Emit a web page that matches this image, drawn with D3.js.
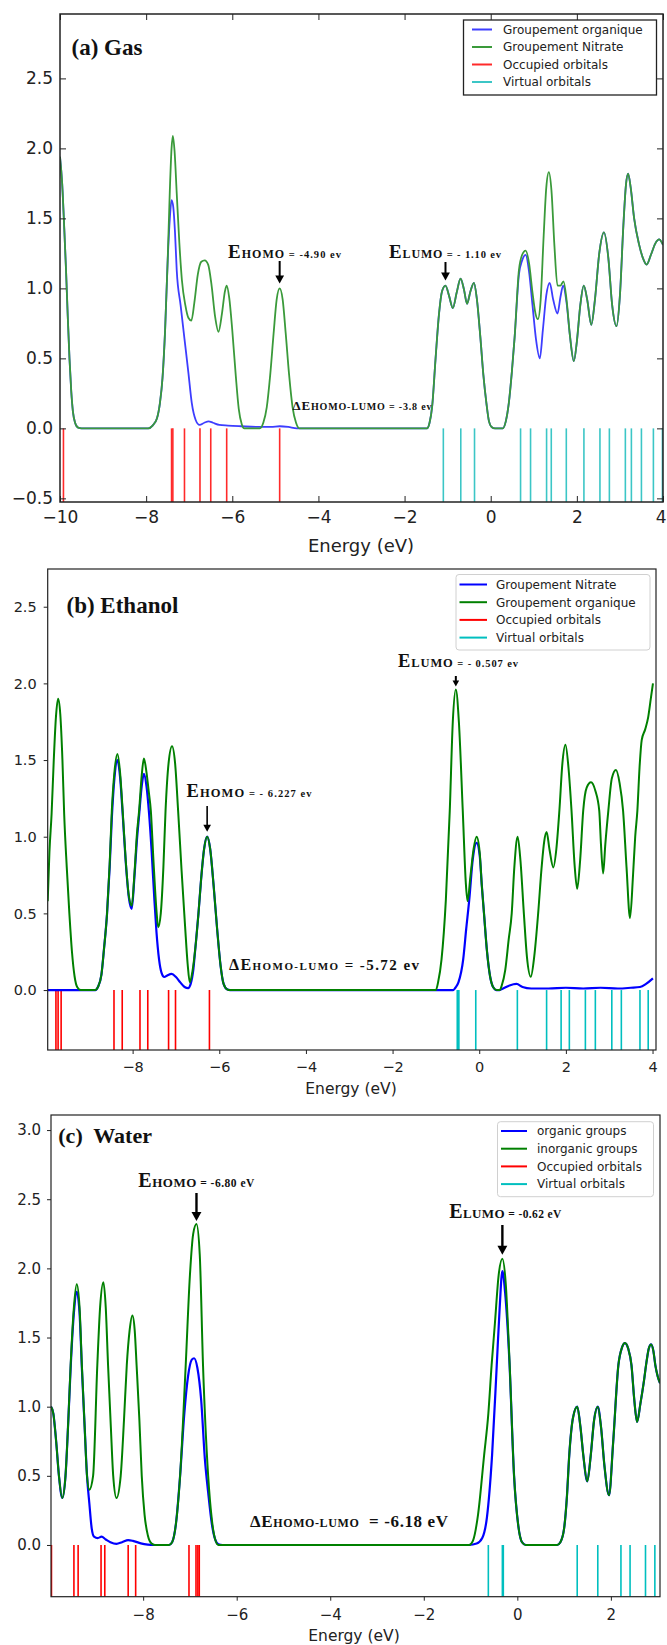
<!DOCTYPE html>
<html>
<head>
<meta charset="utf-8">
<script src="https://cdn.jsdelivr.net/npm/d3@7"></script>
<style>
  body { margin: 0; background: #fff; }
  svg { display: block; }
</style>
</head>
<body>
<svg id="chart" width="667" height="1645"></svg>
<script>
// ---------------- Panel (a): gas phase ----------------
const gasTicksX = [-10, -8, -6, -4, -2, 0, 2, 4];
const gasTicksY = [-0.5, 0, 0.5, 1, 1.5, 2, 2.5];
const gasSeriesNames = ["Groupement organique", "Groupement Nitrate", "Occupied orbitals", "Virtual orbitals"];

// [energy (eV), DOS]
const gasOrganique = [
  [-10.00,1.94],[-9.95,1.75],[-9.90,1.42],[-9.86,1.13],[-9.82,0.80],[-9.78,0.50],[-9.74,0.27],[-9.70,0.12],[-9.65,0.04],[-9.58,0.005],[-9.50,0],
  [-7.95,0],[-7.85,0.02],[-7.75,0.07],[-7.68,0.18],[-7.62,0.36],[-7.56,0.70],[-7.50,1.20],[-7.45,1.50],[-7.41,1.63],[-7.37,1.58],[-7.33,1.40],
  [-7.29,1.13],[-7.20,0.88],[-7.11,0.64],[-7.02,0.40],[-6.94,0.18],[-6.85,0.06],[-6.76,0.025],[-6.65,0.04],[-6.55,0.05],[-6.45,0.04],
  [-6.30,0.025],[-6.10,0.02],[-5.80,0.015],[-5.40,0.01],[-5.10,0.01],[-4.90,0.015],[-4.70,0.01],[-4.50,0],
  [-1.48,0],[-1.42,0.04],[-1.36,0.155],[-1.28,0.50],[-1.20,0.82],[-1.13,0.98],[-1.05,1.02],[-0.97,0.95],[-0.88,0.86],[-0.79,0.97],
  [-0.70,1.07],[-0.62,0.99],[-0.55,0.89],[-0.47,0.98],[-0.39,1.04],[-0.32,0.92],[-0.24,0.65],[-0.17,0.38],[-0.10,0.18],[-0.04,0.05],
  [0.02,0.01],[0.10,0],[0.28,0],[0.35,0.05],[0.42,0.18],[0.49,0.40],[0.555,0.65],[0.655,1.10],[0.73,1.20],[0.81,1.24],[0.89,1.12],
  [0.97,0.88],[1.05,0.64],[1.14,0.50],[1.21,0.70],[1.29,0.95],[1.37,1.04],[1.45,0.92],[1.55,0.82],[1.62,0.94],[1.68,1.02],[1.76,0.90],
  [1.84,0.66],[1.93,0.48],[2.00,0.62],[2.08,0.88],[2.16,1.02],[2.24,0.92],[2.335,0.74],[2.42,0.92],[2.52,1.25],[2.63,1.40],[2.73,1.22],
  [2.82,0.88],[2.92,0.73],[3.00,0.95],[3.08,1.45],[3.14,1.74],[3.19,1.82],[3.25,1.72],[3.33,1.50],[3.44,1.32],[3.53,1.22],[3.62,1.17],
  [3.72,1.24],[3.82,1.32],[3.91,1.35],[4.00,1.31]
];
const gasNitrate = [
  [-10.00,1.94],[-9.95,1.75],[-9.90,1.42],[-9.86,1.13],[-9.82,0.80],[-9.78,0.50],[-9.74,0.27],[-9.70,0.12],[-9.65,0.04],[-9.58,0.005],[-9.50,0],
  [-7.95,0],[-7.85,0.02],[-7.75,0.07],[-7.68,0.18],[-7.62,0.36],[-7.56,0.70],[-7.50,1.20],[-7.45,1.70],[-7.41,2.00],[-7.38,2.09],[-7.34,1.98],
  [-7.29,1.68],[-7.23,1.33],[-7.17,1.06],[-7.09,0.88],[-7.02,0.79],[-6.95,0.77],[-6.88,0.90],[-6.80,1.10],[-6.72,1.19],[-6.64,1.20],
  [-6.56,1.17],[-6.48,1.02],[-6.40,0.80],[-6.32,0.69],[-6.24,0.82],[-6.17,0.98],[-6.13,1.02],[-6.07,0.93],[-6.00,0.70],[-5.92,0.38],
  [-5.85,0.14],[-5.78,0.03],[-5.72,0],
  [-5.36,0],[-5.28,0.04],[-5.20,0.15],[-5.12,0.38],[-5.04,0.68],[-4.97,0.92],[-4.90,1.00],[-4.83,0.92],[-4.76,0.68],[-4.68,0.38],
  [-4.60,0.15],[-4.52,0.04],[-4.44,0],
  [-1.48,0],[-1.42,0.04],[-1.36,0.155],[-1.28,0.50],[-1.20,0.82],[-1.13,0.98],[-1.05,1.02],[-0.97,0.95],[-0.88,0.86],[-0.79,0.97],
  [-0.70,1.07],[-0.62,0.99],[-0.55,0.89],[-0.47,0.98],[-0.39,1.04],[-0.32,0.92],[-0.24,0.65],[-0.17,0.38],[-0.10,0.18],[-0.04,0.05],
  [0.02,0.01],[0.10,0],[0.28,0],[0.35,0.05],[0.42,0.18],[0.49,0.40],[0.555,0.65],[0.655,1.13],[0.73,1.24],[0.81,1.27],[0.89,1.18],
  [0.97,0.97],[1.04,0.82],[1.095,0.78],[1.16,0.92],[1.23,1.38],[1.29,1.72],[1.35,1.83],[1.41,1.70],[1.48,1.30],[1.55,1.02],[1.62,1.02],
  [1.69,1.05],[1.76,0.92],[1.84,0.66],[1.93,0.48],[2.00,0.62],[2.08,0.88],[2.16,1.02],[2.24,0.92],[2.335,0.74],[2.42,0.92],[2.52,1.25],
  [2.63,1.40],[2.73,1.22],[2.82,0.88],[2.92,0.73],[3.00,0.95],[3.08,1.45],[3.14,1.74],[3.19,1.82],[3.25,1.72],[3.33,1.50],[3.44,1.32],
  [3.53,1.22],[3.62,1.17],[3.72,1.24],[3.82,1.32],[3.91,1.35],[4.00,1.31]
];
const gasOccupied = [-9.92, -7.41, -7.38, -7.11, -6.75, -6.50, -6.13, -4.90];
const gasVirtual = [-1.10, -0.695, -0.376, 0.693, 0.925, 1.297, 1.406, 1.755, 2.164, 2.536, 2.755, 3.126, 3.266, 3.499, 3.777, 3.987];

// ---------------- Panel (b): ethanol ----------------
const ethTicksX = [-8, -6, -4, -2, 0, 2, 4];
const ethTicksY = [0, 0.5, 1, 1.5, 2, 2.5];
const ethSeriesNames = ["Groupement Nitrate", "Groupement organique", "Occupied orbitals", "Virtual orbitals"];

const ethNitrate = [
  [-9.96,0],[-8.86,0],[-8.80,0.02],[-8.72,0.10],[-8.66,0.27],[-8.59,0.50],[-8.53,0.80],[-8.48,1.12],[-8.42,1.38],[-8.35,1.50],
  [-8.29,1.39],[-8.23,1.15],[-8.16,0.84],[-8.09,0.61],[-8.02,0.53],[-7.96,0.73],[-7.90,0.98],[-7.85,1.14],[-7.79,1.33],[-7.74,1.41],
  [-7.68,1.33],[-7.62,1.15],[-7.56,0.90],[-7.50,0.60],[-7.45,0.38],[-7.39,0.20],[-7.33,0.11],[-7.27,0.085],[-7.20,0.095],[-7.10,0.105],
  [-7.00,0.085],[-6.90,0.05],[-6.80,0.02],[-6.72,0.012],[-6.66,0.04],[-6.60,0.13],[-6.55,0.28],[-6.48,0.50],[-6.42,0.72],[-6.35,0.92],
  [-6.28,1.00],[-6.21,0.92],[-6.13,0.68],[-6.05,0.40],[-5.97,0.16],[-5.90,0.04],[-5.82,0.005],[-5.75,0],
  [-0.60,0],[-0.55,0.015],[-0.48,0.05],[-0.37,0.20],[-0.30,0.40],[-0.23,0.59],[-0.15,0.85],[-0.06,0.96],[0.01,0.88],[0.06,0.68],
  [0.11,0.50],[0.18,0.25],[0.25,0.09],[0.32,0.02],[0.40,0],[0.47,0],[0.55,0.01],[0.70,0.03],[0.86,0.04],[1.00,0.02],[1.20,0.01],
  [1.60,0.01],[2.00,0.015],[2.40,0.01],[2.80,0.015],[3.20,0.01],[3.50,0.015],[3.71,0.02],[3.85,0.04],[4.01,0.076]
];
const ethOrganique = [
  [-9.96,0.58],[-9.92,0.90],[-9.87,1.15],[-9.82,1.50],[-9.77,1.78],[-9.72,1.90],[-9.67,1.80],[-9.62,1.50],[-9.58,1.15],[-9.52,0.80],
  [-9.46,0.50],[-9.40,0.25],[-9.34,0.09],[-9.28,0.02],[-9.20,0],
  [-8.86,0],[-8.80,0.02],[-8.72,0.10],[-8.66,0.27],[-8.59,0.50],[-8.53,0.82],[-8.48,1.17],[-8.42,1.42],[-8.35,1.54],[-8.29,1.42],
  [-8.23,1.17],[-8.16,0.85],[-8.09,0.62],[-8.02,0.55],[-7.96,0.75],[-7.90,1.02],[-7.85,1.17],[-7.79,1.40],[-7.74,1.51],[-7.68,1.42],
  [-7.63,1.30],[-7.58,1.17],[-7.52,0.85],[-7.45,0.52],[-7.41,0.41],[-7.35,0.50],[-7.29,0.80],[-7.24,1.17],[-7.17,1.48],[-7.09,1.59],
  [-7.02,1.48],[-6.95,1.17],[-6.87,0.78],[-6.79,0.42],[-6.73,0.17],[-6.68,0.05],[-6.62,0.12],[-6.55,0.28],[-6.48,0.50],[-6.42,0.72],
  [-6.35,0.92],[-6.28,1.00],[-6.21,0.92],[-6.13,0.68],[-6.05,0.40],[-5.97,0.16],[-5.90,0.04],[-5.82,0.005],[-5.75,0],
  [-1.00,0],[-0.95,0.05],[-0.87,0.20],[-0.77,0.59],[-0.68,1.17],[-0.61,1.75],[-0.54,1.96],[-0.47,1.75],[-0.38,1.17],[-0.31,0.70],
  [-0.27,0.58],[-0.20,0.75],[-0.13,0.92],[-0.06,1.00],[0.01,0.90],[0.06,0.68],[0.11,0.50],[0.18,0.25],[0.25,0.09],[0.32,0.02],
  [0.40,0],[0.47,0],[0.52,0.03],[0.60,0.13],[0.68,0.33],[0.75,0.50],[0.81,0.80],[0.886,1.00],[0.95,0.85],[1.03,0.50],[1.10,0.22],
  [1.19,0.087],[1.27,0.22],[1.36,0.50],[1.44,0.80],[1.50,0.97],[1.555,1.03],[1.62,0.92],[1.71,0.80],[1.78,0.92],[1.85,1.17],
  [1.92,1.48],[1.99,1.60],[2.06,1.45],[2.13,1.17],[2.20,0.82],[2.26,0.66],[2.33,0.85],[2.40,1.17],[2.48,1.32],[2.58,1.355],
  [2.68,1.30],[2.77,1.17],[2.81,0.95],[2.86,0.76],[2.91,0.95],[2.98,1.17],[3.06,1.38],[3.155,1.435],[3.24,1.35],[3.32,1.17],
  [3.40,0.80],[3.48,0.47],[3.55,0.75],[3.60,1.00],[3.65,1.17],[3.70,1.45],[3.75,1.63],[3.83,1.70],[3.90,1.78],[3.96,1.90],[4.01,2.00]
];
const ethOccupied = [-9.77, -9.72, -9.65, -8.43, -8.24, -7.83, -7.65, -7.17, -7.01, -6.227];
const ethVirtual = [-0.507, -0.49, -0.47, -0.08, 0.88, 1.555, 1.89, 2.08, 2.45, 2.68, 3.06, 3.28, 3.71, 3.90];

// ---------------- Panel (c): water ----------------
const watTicksX = [-8, -6, -4, -2, 0, 2];
const watTicksY = [0, 0.5, 1, 1.5, 2, 2.5, 3];
const watSeriesNames = ["organic groups", "inorganic groups", "Occupied orbitals", "Virtual orbitals"];

const watOrganic = [
  [-9.97,1.00],[-9.92,0.95],[-9.86,0.75],[-9.80,0.50],[-9.73,0.34],[-9.66,0.50],[-9.60,0.90],[-9.55,1.28],[-9.48,1.68],[-9.42,1.83],
  [-9.36,1.68],[-9.31,1.28],[-9.25,0.85],[-9.20,0.50],[-9.15,0.30],[-9.10,0.12],[-9.05,0.06],[-8.97,0.05],[-8.89,0.06],[-8.80,0.04],
  [-8.70,0.02],[-8.57,0.008],[-8.45,0.02],[-8.32,0.035],[-8.22,0.03],[-8.05,0.012],[-7.90,0.003],[-7.78,0],
  [-7.45,0],[-7.38,0.02],[-7.30,0.15],[-7.21,0.50],[-7.12,0.95],[-7.04,1.22],[-6.96,1.34],[-6.91,1.35],[-6.84,1.28],[-6.76,1.05],
  [-6.68,0.62],[-6.61,0.38],[-6.53,0.15],[-6.46,0.04],[-6.39,0.005],[-6.30,0],
  [-1.03,0],[-0.87,0.01],[-0.75,0.05],[-0.65,0.20],[-0.54,0.65],[-0.44,1.30],[-0.38,1.70],[-0.32,1.98],[-0.26,1.82],[-0.17,1.33],
  [-0.07,0.50],[0.02,0.14],[0.10,0.02],[0.18,0],
  [0.85,0],[0.92,0.02],[1.00,0.12],[1.06,0.35],[1.11,0.65],[1.19,0.92],[1.28,1.00],[1.35,0.85],[1.41,0.65],[1.495,0.46],[1.57,0.65],
  [1.64,0.90],[1.72,1.00],[1.79,0.85],[1.86,0.58],[1.96,0.36],[2.05,0.75],[2.16,1.30],[2.24,1.43],[2.30,1.46],[2.37,1.42],[2.44,1.30],
  [2.50,1.05],[2.56,0.89],[2.63,1.02],[2.70,1.17],[2.76,1.32],[2.81,1.42],[2.86,1.45],[2.91,1.40],[2.95,1.30],[3.00,1.22],[3.05,1.17]
];
const watInorganic = [
  [-9.97,1.00],[-9.92,0.95],[-9.86,0.75],[-9.80,0.50],[-9.73,0.34],[-9.66,0.50],[-9.60,0.90],[-9.55,1.30],[-9.48,1.72],[-9.42,1.885],
  [-9.36,1.72],[-9.31,1.30],[-9.25,0.85],[-9.20,0.50],[-9.15,0.40],[-9.07,0.50],[-8.98,1.30],[-8.92,1.72],[-8.85,1.90],[-8.80,1.72],
  [-8.75,1.30],[-8.69,0.85],[-8.64,0.50],[-8.57,0.34],[-8.48,0.50],[-8.41,0.90],[-8.35,1.30],[-8.29,1.55],[-8.23,1.66],[-8.18,1.55],
  [-8.14,1.30],[-8.08,0.90],[-8.03,0.50],[-7.97,0.22],[-7.90,0.07],[-7.82,0.01],[-7.75,0],
  [-7.45,0],[-7.38,0.02],[-7.30,0.15],[-7.21,0.50],[-7.09,1.30],[-7.00,1.95],[-6.93,2.25],[-6.86,2.32],[-6.79,2.10],[-6.72,1.30],
  [-6.61,0.50],[-6.53,0.18],[-6.46,0.04],[-6.39,0],
  [-1.03,0],[-0.95,0.03],[-0.84,0.22],[-0.71,0.65],[-0.62,0.95],[-0.55,1.30],[-0.48,1.60],[-0.40,1.95],[-0.32,2.07],[-0.25,1.90],
  [-0.17,1.35],[-0.07,0.50],[0.02,0.14],[0.10,0.02],[0.18,0],
  [0.85,0],[0.92,0.02],[1.00,0.12],[1.06,0.35],[1.11,0.65],[1.19,0.92],[1.28,1.00],[1.35,0.85],[1.41,0.65],[1.495,0.46],[1.57,0.65],
  [1.64,0.90],[1.72,1.00],[1.79,0.85],[1.86,0.58],[1.96,0.36],[2.05,0.75],[2.16,1.30],[2.24,1.43],[2.30,1.46],[2.37,1.42],[2.44,1.30],
  [2.50,1.05],[2.56,0.89],[2.63,1.02],[2.70,1.17],[2.76,1.32],[2.81,1.42],[2.86,1.45],[2.91,1.40],[2.95,1.30],[3.00,1.22],[3.05,1.17]
];
const watOccupied = [-9.96, -9.48, -9.39, -8.90, -8.82, -8.32, -8.16, -7.02, -6.87, -6.83, -6.80];
const watVirtual = [-0.62, -0.32, -0.30, 1.28, 1.72, 2.215, 2.41, 2.74, 2.94];

// ---------------- drawing ----------------
const svg = d3.select("#chart");
const SANS = "DejaVu Sans, sans-serif";
const SERIF = "Liberation Serif, Times New Roman, serif";

// nearest local maximum of a curve around an energy (used to aim the HOMO/LUMO arrows)
function peakNear(curve, e, win) {
  const pts = curve.filter(p => Math.abs(p[0] - e) <= win);
  return d3.greatest(pts, p => p[1]);
}

// label made of runs of different sizes: [text, font-size]; spread to a given width
function richText(g, x, y, parts, width) {
  const t = g.append("text").attr("x", x).attr("y", y)
    .attr("font-family", SERIF).attr("font-weight", "bold").attr("fill", "#111")
    .style("white-space", "pre");
  parts.forEach(p => t.append("tspan").attr("font-size", p[1]).text(p[0]));
  if (width) t.attr("textLength", width).attr("lengthAdjust", "spacing");
  return t;
}

function arrow(g, x, y1, y2, w, head) {
  g.append("line").attr("x1", x).attr("x2", x).attr("y1", y1).attr("y2", y2 - head + 1)
    .attr("stroke", "#000").attr("stroke-width", w);
  g.append("path")
    .attr("d", `M${x - head * 0.55},${y2 - head} L${x + head * 0.55},${y2 - head} L${x},${y2} Z`)
    .attr("fill", "#000");
}

function drawPanel(cfg, idx) {
  const f = cfg.frame;
  const x = d3.scaleLinear().domain(cfg.xDomain).range([f.l, f.r]);
  const y = d3.scaleLinear().domain(cfg.yDomain).range([f.b, f.t]);
  const g = svg.append("g");
  const clipId = "clip" + idx;
  g.append("clipPath").attr("id", clipId).append("rect")
    .attr("x", f.l).attr("y", f.t).attr("width", f.r - f.l).attr("height", f.b - f.t);

  const plot = g.append("g").attr("clip-path", `url(#${clipId})`);

  // orbital sticks, from zero down to the bottom of the axes
  const sticks = (arr, color) => plot.selectAll(null).data(arr).join("line")
    .attr("x1", d => x(d)).attr("x2", d => x(d))
    .attr("y1", y(0)).attr("y2", y(cfg.yDomain[0]))
    .attr("stroke", color).attr("stroke-width", cfg.stickWidth);
  sticks(cfg.occupied, cfg.colors[2]);
  sticks(cfg.virtual, cfg.colors[3]);

  const line = d3.line().x(d => x(d[0])).y(d => y(d[1])).curve(d3.curveMonotoneX);
  cfg.curves.forEach((c, i) => {
    plot.append("path").datum(c).attr("d", line)
      .attr("fill", "none").attr("stroke", cfg.colors[i])
      .attr("stroke-width", cfg.curveWidth[i]).attr("stroke-linejoin", "round");
  });

  // axes
  const inward = cfg.classic;
  const tl = inward ? -6 : 4;
  const ax = g.append("g").attr("transform", `translate(0,${f.b})`)
    .call(d3.axisBottom(x).tickValues(cfg.xTicks).tickFormat(d3.format("d"))
      .tickSizeInner(tl).tickSizeOuter(0).tickPadding(cfg.xPad));
  const ay = g.append("g").attr("transform", `translate(${f.l},0)`)
    .call(d3.axisLeft(y).tickValues(cfg.yTicks).tickFormat(d3.format(".1f"))
      .tickSizeInner(tl).tickSizeOuter(0).tickPadding(cfg.yPad));
  [ax, ay].forEach(a => {
    a.select(".domain").remove();
    a.selectAll("line").attr("stroke", "#222").attr("stroke-width", 1);
    a.selectAll("text").attr("font-family", SANS).attr("font-size", cfg.tickFont).attr("fill", "#222");
  });
  // keep a tick label that sits on the right frame inside the page
  ax.selectAll(".tick text").each(function (d) {
    const box = this.getBBox();
    const over = x(d) + box.width / 2 - 666;
    if (over > 0) d3.select(this).attr("dx", -over);
  });
  if (inward) {
    const at = g.append("g").attr("transform", `translate(0,${f.t})`)
      .call(d3.axisTop(x).tickValues(cfg.xTicks).tickFormat("").tickSizeInner(-6).tickSizeOuter(0));
    const ar = g.append("g").attr("transform", `translate(${f.r},0)`)
      .call(d3.axisRight(y).tickValues(cfg.yTicks).tickFormat("").tickSizeInner(-6).tickSizeOuter(0));
    [at, ar].forEach(a => {
      a.select(".domain").remove();
      a.selectAll("line").attr("stroke", "#222").attr("stroke-width", 1);
    });
  }
  g.append("rect").attr("x", f.l).attr("y", f.t).attr("width", f.r - f.l).attr("height", f.b - f.t)
    .attr("fill", "none").attr("stroke", "#222").attr("stroke-width", cfg.frameWidth);

  g.append("text").attr("x", cfg.xLabel[0]).attr("y", cfg.xLabel[1]).attr("text-anchor", "middle")
    .attr("font-family", SANS).attr("font-size", cfg.xLabel[2]).attr("fill", "#222").text("Energy (eV)");

  // title
  g.append("text").attr("x", cfg.title[1]).attr("y", cfg.title[2])
    .attr("font-family", SERIF).attr("font-weight", "bold").attr("font-size", cfg.title[3])
    .attr("fill", "#111").style("white-space", "pre").text(cfg.title[0]);

  // legend
  const L = cfg.legend;
  const lg = g.append("g");
  lg.append("rect").attr("x", L.x0).attr("y", L.y0).attr("width", L.x1 - L.x0).attr("height", L.y1 - L.y0)
    .attr("rx", L.rounded ? 3 : 0).attr("fill", "#fff")
    .attr("stroke", L.rounded ? "#d0d0d0" : "#222").attr("stroke-width", L.rounded ? 1 : 1.3);
  cfg.names.forEach((n, i) => {
    const ry = L.row0 + i * L.rowStep;
    lg.append("line").attr("x1", L.lx0).attr("x2", L.lx1).attr("y1", ry).attr("y2", ry)
      .attr("stroke", cfg.colors[i]).attr("stroke-width", 2);
    lg.append("text").attr("x", L.tx).attr("y", ry).attr("dy", "0.36em")
      .attr("font-family", SANS).attr("font-size", 12).attr("fill", "#222").text(n);
  });

  // HOMO / LUMO annotations
  const an = g.append("g");
  cfg.notes.forEach(n => {
    richText(an, n.x, n.y, n.parts, n.w);
    if (n.target != null) {
      const pk = peakNear(n.curve, n.target, 0.32);
      arrow(an, x(pk[0]), n.a0, y(pk[1]) - n.gap, n.aw, n.head);
    }
  });
}

drawPanel({
  frame: { l: 60, r: 663, t: 14, b: 502 },
  xDomain: [-10, 4], yDomain: [-0.526, 2.96],
  xTicks: gasTicksX, yTicks: gasTicksY, classic: true,
  xPad: 9, yPad: 7, tickFont: 17, frameWidth: 1.5,
  xLabel: [361, 552, 18],
  colors: ["#3d3dff", "#3a9a3a", "#ff2a2a", "#3cc6c6"],
  curveWidth: [1.8, 1.8], stickWidth: 1.6,
  curves: [gasOrganique, gasNitrate],
  occupied: gasOccupied, virtual: gasVirtual,
  names: gasSeriesNames,
  title: ["(a) Gas", 71.5, 55, 23],
  legend: { x0: 463.5, x1: 656.5, y0: 20, y1: 95, rounded: false, row0: 29.5, rowStep: 17.5, lx0: 472, lx1: 492, tx: 503 },
  notes: [
    { x: 228, y: 258, w: 113, parts: [["E", 19], ["HOMO", 12], [" = -4.90 ev", 10.5]], target: -4.90, curve: gasNitrate, a0: 261, gap: 5, aw: 2, head: 8 },
    { x: 389, y: 258, w: 112, parts: [["E", 19], ["LUMO", 12], [" = - 1.10 ev", 10.5]], target: -1.10, curve: gasNitrate, a0: 262, gap: 5, aw: 2, head: 8 },
    { x: 292.5, y: 410, w: 139, parts: [["ΔE", 13], ["HOMO-LUMO", 10], [" = -3.8 ev", 10]] }
  ]
}, 0);

drawPanel({
  frame: { l: 47.7, r: 656, t: 569, b: 1050 },
  xDomain: [-9.96, 4.08], yDomain: [-0.391, 2.746],
  xTicks: ethTicksX, yTicks: ethTicksY, classic: false,
  xPad: 8, yPad: 7, tickFont: 14.5, frameWidth: 1.2,
  xLabel: [351, 1094, 15.5],
  colors: ["#0000ff", "#008000", "#ff0000", "#00bfbf"],
  curveWidth: [2.2, 2], stickWidth: 1.6,
  curves: [ethNitrate, ethOrganique],
  occupied: ethOccupied, virtual: ethVirtual,
  names: ethSeriesNames,
  title: ["(b) Ethanol", 66.5, 613, 23],
  legend: { x0: 456, x1: 650, y0: 574.5, y1: 650, rounded: true, row0: 584.5, rowStep: 17.7, lx0: 459.5, lx1: 487, tx: 496 },
  notes: [
    { x: 186.5, y: 797, w: 125, parts: [["E", 18.5], ["HOMO", 12.5], [" = - 6.227 ev", 10.5]], target: -6.227, curve: ethOrganique, a0: 806, gap: 5, aw: 1.6, head: 7 },
    { x: 398, y: 667, w: 120, parts: [["E", 18.5], ["LUMO", 12.5], [" = - 0.507 ev", 10.5]], target: -0.507, curve: ethOrganique, a0: 676, gap: 3, aw: 2, head: 6 },
    { x: 229, y: 970, w: 190, parts: [["ΔE", 16], ["HOMO-LUMO", 11], [" = -5.72 ev", 15]] }
  ]
}, 1);

drawPanel({
  frame: { l: 51, r: 660, t: 1115, b: 1596.7 },
  xDomain: [-9.97, 3.05], yDomain: [-0.374, 3.109],
  xTicks: watTicksX, yTicks: watTicksY, classic: false,
  xPad: 8.5, yPad: 6, tickFont: 15, frameWidth: 1.2,
  xLabel: [354, 1641, 15.5],
  colors: ["#0000ff", "#008000", "#ff0000", "#00bfbf"],
  curveWidth: [2.2, 2], stickWidth: 1.6,
  curves: [watOrganic, watInorganic],
  occupied: watOccupied, virtual: watVirtual,
  names: watSeriesNames,
  title: ["(c)  Water", 58.3, 1142.7, 22],
  legend: { x0: 497.5, x1: 653.5, y0: 1121.7, y1: 1196.7, rounded: true, row0: 1131, rowStep: 17.7, lx0: 501, lx1: 527, tx: 537 },
  notes: [
    { x: 138.3, y: 1186.7, w: 116, parts: [["E", 20], ["HOMO", 13], [" = -6.80 eV", 11.5]], target: -6.80, curve: watInorganic, a0: 1193, gap: 3, aw: 2.4, head: 9 },
    { x: 449.3, y: 1218.3, w: 112, parts: [["E", 20], ["LUMO", 13], [" = -0.62 eV", 11.5]], target: -0.62, curve: watInorganic, a0: 1225, gap: 4, aw: 2.4, head: 9 },
    { x: 250, y: 1527, w: 198, parts: [["ΔE", 17], ["HOMO-LUMO", 12], ["  = -6.18 eV", 17]] }
  ]
}, 2);
</script>
</body>
</html>
